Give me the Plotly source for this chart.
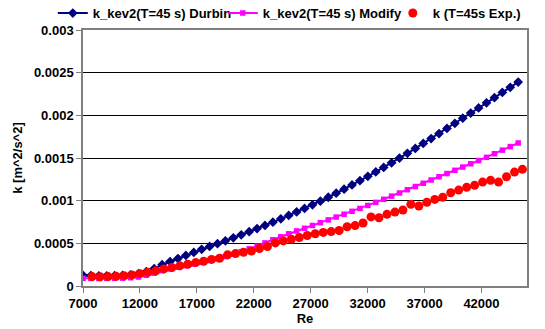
import plotly.graph_objects as go

# Reynolds numbers for the two model curves
re_model = [7000, 7695, 8390, 9085, 9780, 10475, 11170, 11865, 12560, 13255,
            13950, 14645, 15340, 16035, 16730, 17425, 18120, 18815, 19510, 20205,
            20900, 21595, 22290, 22985, 23680, 24375, 25070, 25765, 26460, 27155,
            27850, 28545, 29240, 29935, 30630, 31325, 32020, 32715, 33410, 34105,
            34800, 35495, 36190, 36885, 37580, 38275, 38970, 39665, 40360, 41055,
            41750, 42445, 43140, 43835, 44530, 45225]

k_durbin = [0.000125, 0.000122, 0.000120, 0.000120, 0.000121, 0.000124, 0.000130, 0.000145, 0.000168, 0.000205,
            0.000250, 0.000287, 0.000322, 0.000358, 0.000394, 0.000430, 0.000463, 0.000496, 0.000530, 0.000565,
            0.000600, 0.000636, 0.000673, 0.000710, 0.000748, 0.000787, 0.000827, 0.000868, 0.000909, 0.000951,
            0.000994, 0.001040, 0.001087, 0.001135, 0.001184, 0.001234, 0.001285, 0.001337, 0.001390, 0.001444,
            0.001499, 0.001555, 0.001612, 0.001670, 0.001728, 0.001787, 0.001846, 0.001906, 0.001966, 0.002026,
            0.002086, 0.002146, 0.002207, 0.002268, 0.002329, 0.002390]

k_modify = [0.000090, 0.000088, 0.000088, 0.000089, 0.000090, 0.000092, 0.000097, 0.000105, 0.000125, 0.000150,
            0.000180, 0.000200, 0.000220, 0.000238, 0.000257, 0.000277, 0.000298, 0.000320, 0.000345, 0.000372,
            0.000402, 0.000435, 0.000468, 0.000505, 0.000542, 0.000577, 0.000612, 0.000645, 0.000677, 0.000709,
            0.000742, 0.000775, 0.000808, 0.000841, 0.000875, 0.000909, 0.000944, 0.000980, 0.001016, 0.001053,
            0.001090, 0.001128, 0.001166, 0.001204, 0.001242, 0.001280, 0.001318, 0.001356, 0.001394, 0.001432,
            0.001470, 0.001508, 0.001550, 0.001592, 0.001634, 0.001676]

# Experimental points
re_exp = [7800, 8500, 9200, 9900, 10600, 11300, 12000, 12700, 13400, 14100,
          14800, 15500, 16200, 16900, 17600, 18300, 19000, 19700, 20400, 21100,
          21800, 22500, 23200, 23900, 24600, 25300, 26000, 26700, 27400, 28100,
          28800, 29500, 30200, 30900, 31600, 32300, 33000, 33700, 34400, 35100,
          35800, 36500, 37200, 37900, 38600, 39300, 40000, 40700, 41400, 42100,
          42800, 43500, 44200, 44900, 45600]

k_exp = [0.000110, 0.000108, 0.000110, 0.000113, 0.000120, 0.000130, 0.000145, 0.000160, 0.000178, 0.000200,
         0.000217, 0.000236, 0.000255, 0.000274, 0.000290, 0.000312, 0.000325, 0.000365, 0.000380, 0.000395,
         0.000410, 0.000440, 0.000462, 0.000505, 0.000528, 0.000547, 0.000568, 0.000592, 0.000612, 0.000628,
         0.000638, 0.000650, 0.000694, 0.000708, 0.000738, 0.000810, 0.000800, 0.000840, 0.000866, 0.000890,
         0.000957, 0.000937, 0.000980, 0.001015, 0.001040, 0.001093, 0.001124, 0.001156, 0.001180, 0.001218,
         0.001238, 0.001218, 0.001280, 0.001335, 0.001367]

x_ticks = [7000, 12000, 17000, 22000, 27000, 32000, 37000, 42000]
x_ticklabels = ["7000", "12000", "17000", "22000", "27000", "32000", "37000", "42000"]
y_ticks = [0, 0.0005, 0.001, 0.0015, 0.002, 0.0025, 0.003]
y_ticklabels = ["0", "0.0005", "0.001", "0.0015", "0.002", "0.0025", "0.003"]

FONT = "Liberation Sans, Arial, sans-serif"
bold = dict(family=FONT, size=13, color="black", weight="bold")

fig = go.Figure()
fig.add_trace(go.Scatter(
    x=re_model, y=k_durbin, mode="lines+markers", name="k_kev2(T=45 s) Durbin",
    line=dict(color="#000080", width=2),
    marker=dict(symbol="diamond", size=7.5, color="#000080")))
fig.add_trace(go.Scatter(
    x=re_model, y=k_modify, mode="lines+markers", name="k_kev2(T=45 s) Modify",
    line=dict(color="#FF00FF", width=2),
    marker=dict(symbol="square", size=5.5, color="#FF00FF")))
fig.add_trace(go.Scatter(
    x=re_exp, y=k_exp, mode="markers", name="k (T=45s Exp.)",
    marker=dict(symbol="circle", size=9, color="#FF0000")))

fig.update_layout(
    width=545, height=329,
    margin=dict(l=83, r=18, t=30, b=43, autoexpand=False),
    paper_bgcolor="white", plot_bgcolor="white",
    font=bold,
    showlegend=True,
    legend=dict(orientation="h", x=-0.068, xanchor="left", y=1.066, yanchor="middle",
                entrywidth=125, font=bold, bgcolor="rgba(0,0,0,0)"),
    xaxis=dict(range=[7000, 46000], tickvals=x_ticks, ticktext=x_ticklabels,
               ticks="outside", ticklen=5, tickcolor="#808080", tickwidth=1,
               showgrid=False, zeroline=False,
               showline=True, linecolor="#808080", linewidth=1.5, mirror=True,
               tickfont=bold, automargin=False,
               title=dict(text="Re", font=bold, standoff=4)),
    yaxis=dict(range=[0, 0.003], tickvals=y_ticks, ticktext=y_ticklabels,
               ticks="outside", ticklen=5, tickcolor="#808080", tickwidth=1,
               showgrid=True, gridcolor="black", gridwidth=1, zeroline=False,
               showline=True, linecolor="#808080", linewidth=1.5, mirror=True,
               tickfont=bold, automargin=False,
               title=dict(text="k [m^2/s^2]", font=bold, standoff=8)),
)

fig.write_html(
    "out.html",
    config={"displayModeBar": False},
    post_script="document.body.style.margin='0';document.body.style.padding='0';"
                "document.body.style.overflow='hidden';",
)
